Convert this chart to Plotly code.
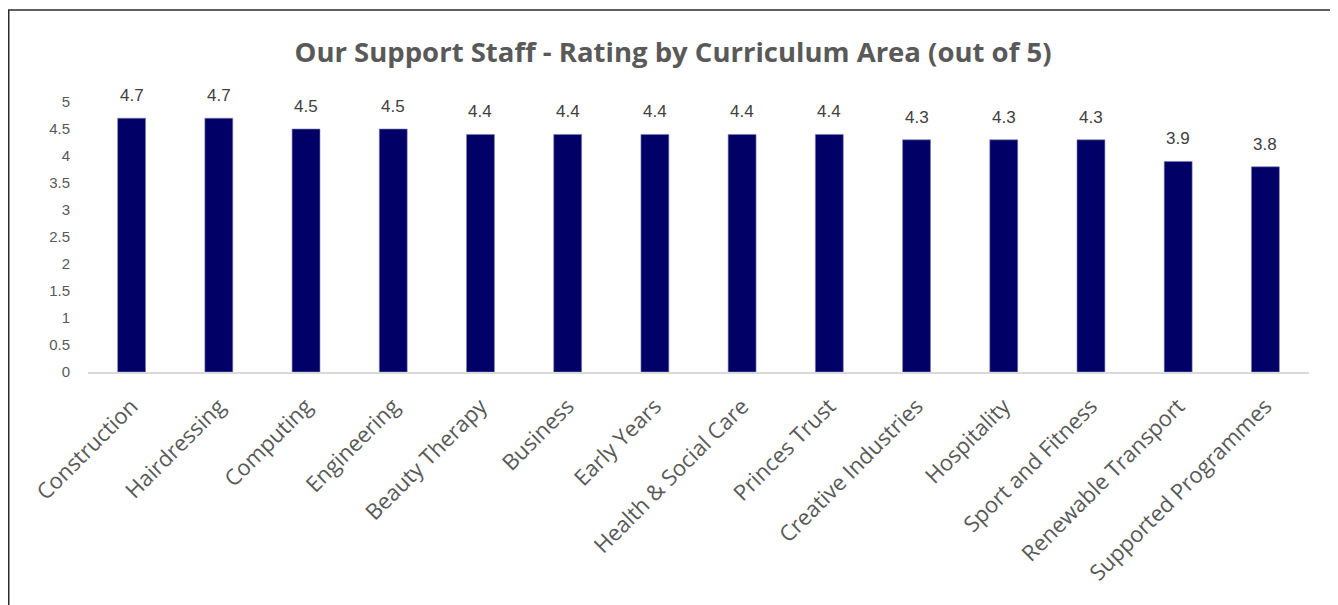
import plotly.graph_objects as go

categories = ["Construction", "Hairdressing", "Computing", "Engineering", "Beauty Therapy",
              "Business", "Early Years", "Health & Social Care", "Princes Trust",
              "Creative Industries", "Hospitality", "Sport and Fitness",
              "Renewable Transport", "Supported Programmes"]
ratings = [4.7, 4.7, 4.5, 4.5, 4.4, 4.4, 4.4, 4.4, 4.4, 4.3, 4.3, 4.3, 3.9, 3.8]
y_ticks = [0, 0.5, 1, 1.5, 2, 2.5, 3, 3.5, 4, 4.5, 5]

TFONT = "Open Sans"
NFONT = "Liberation Sans"
W, H = 1330, 597
L, R, T, B = 80, 29, 94, 233

fig = go.Figure()
fig.add_trace(go.Bar(
    x=categories, y=ratings,
    marker=dict(color="#000066", line=dict(color="#8080b3", width=0.6)),
    hoverinfo="x+y",
))

for c, v in zip(categories, ratings):
    fig.add_annotation(x=c, y=v, text=f"{v:g}", showarrow=False, yanchor="bottom",
                       yshift=11, font=dict(family=NFONT, size=17, color="#404040"))

pw = W - L - R
ph = H - T - B
fig.add_shape(type="rect", xref="paper", yref="paper",
              x0=(0.75 - L) / pw, x1=(1328 - L) / pw,
              y0=-(B + 20) / ph, y1=(T + ph - 2) / ph,
              line=dict(color="#2b2b2b", width=1.5), fillcolor="rgba(0,0,0,0)", layer="below")

fig.update_layout(
    width=W, height=H,
    margin=dict(l=L, r=R, t=T, b=B, pad=0),
    paper_bgcolor="white", plot_bgcolor="white",
    bargap=0.68,
    showlegend=False,
    title=dict(text="<b>Our Support Staff - Rating by Curriculum Area (out of 5)</b>",
               x=0.5, xanchor="center", xref="container", y=1 - 44 / H, yanchor="middle",
               font=dict(family=TFONT, size=27.5, color="#595959")),
    xaxis=dict(tickangle=-45, tickfont=dict(family=TFONT, size=22, color="#595959"),
               showline=True, linecolor="#d9d9d9", linewidth=1.5, showgrid=False,
               ticks="", ticklen=0, ticklabelstandoff=11),
    yaxis=dict(range=[0, 5], tickvals=y_ticks, ticktext=[f"{t:g}" for t in y_ticks],
               tickfont=dict(family=NFONT, size=15, color="#595959"),
               showgrid=False, zeroline=False, showline=False, ticks="outside",
               ticklen=14, tickcolor="white"),
)

fig.write_html("out.html")
